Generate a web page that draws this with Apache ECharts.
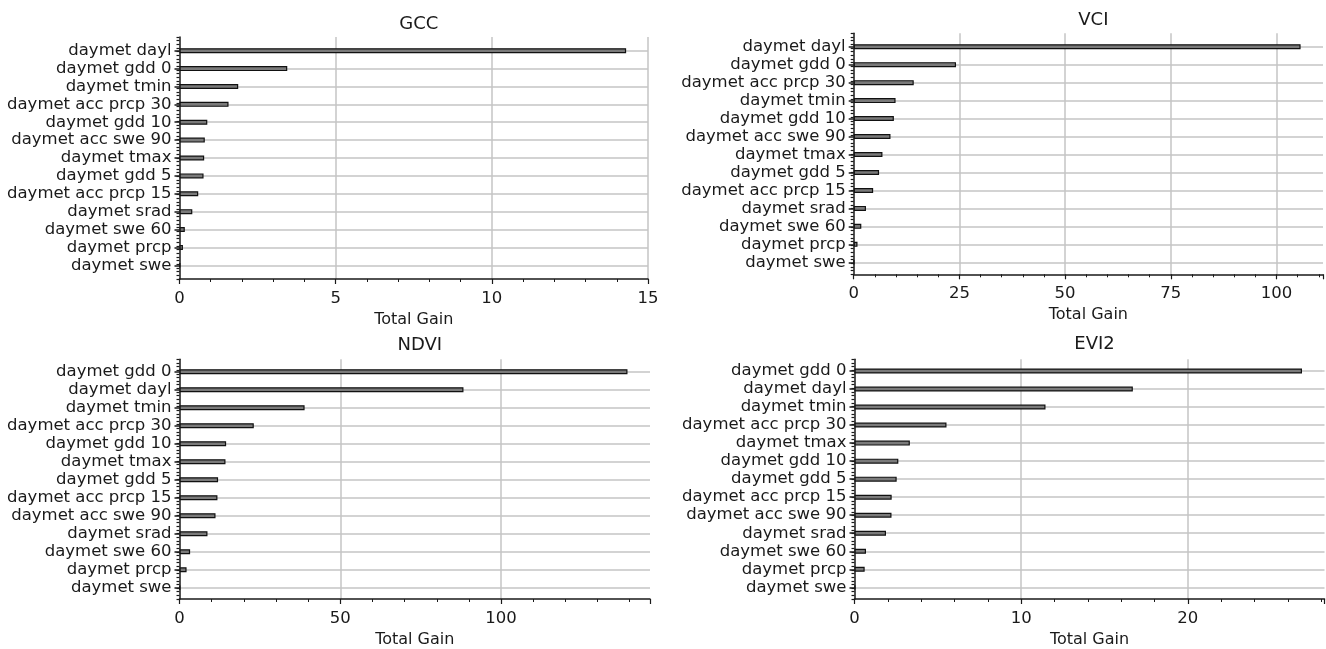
<!DOCTYPE html>
<html>
<head>
<meta charset="utf-8">
<script src="https://cdn.jsdelivr.net/npm/echarts@6/dist/echarts.min.js"></script>
<style>
  html, body { margin: 0; padding: 0; background: #fff; }
  #chart { width: 1326px; height: 649px; }
</style>
</head>
<body>
<div id="chart"></div>
<script>
// feature importance per index (Total Gain)
const gccLabels = ['daymet dayl', 'daymet gdd 0', 'daymet tmin', 'daymet acc prcp 30', 'daymet gdd 10', 'daymet acc swe 90', 'daymet tmax', 'daymet gdd 5', 'daymet acc prcp 15', 'daymet srad', 'daymet swe 60', 'daymet prcp', 'daymet swe'];
const gccGain = [14.3, 3.45, 1.88, 1.57, 0.89, 0.81, 0.79, 0.77, 0.6, 0.41, 0.17, 0.11, 0.02];

const vciLabels = ['daymet dayl', 'daymet gdd 0', 'daymet acc prcp 30', 'daymet tmin', 'daymet gdd 10', 'daymet acc swe 90', 'daymet tmax', 'daymet gdd 5', 'daymet acc prcp 15', 'daymet srad', 'daymet swe 60', 'daymet prcp', 'daymet swe'];
const vciGain = [105.7, 24.2, 14.2, 9.9, 9.5, 8.7, 6.8, 6.0, 4.6, 2.9, 1.8, 0.9, 0.1];

const ndviLabels = ['daymet gdd 0', 'daymet dayl', 'daymet tmin', 'daymet acc prcp 30', 'daymet gdd 10', 'daymet tmax', 'daymet gdd 5', 'daymet acc prcp 15', 'daymet acc swe 90', 'daymet srad', 'daymet swe 60', 'daymet prcp', 'daymet swe'];
const ndviGain = [139.3, 88.3, 38.9, 23.1, 14.5, 14.3, 12.0, 11.8, 11.2, 8.7, 3.3, 2.2, 0.2];

const evi2Labels = ['daymet gdd 0', 'daymet dayl', 'daymet tmin', 'daymet acc prcp 30', 'daymet tmax', 'daymet gdd 10', 'daymet gdd 5', 'daymet acc prcp 15', 'daymet acc swe 90', 'daymet srad', 'daymet swe 60', 'daymet prcp', 'daymet swe'];
const evi2Gain = [26.85, 16.7, 11.46, 5.52, 3.32, 2.63, 2.53, 2.23, 2.22, 1.89, 0.69, 0.61, 0.05];

const W = 1326;
const FONT = 'DejaVu Sans';
const INK = '#1a1a1a';
const GRID = '#c4c4c4';

// frame = axes box (x axis + dense y ticks), rows = band area for bars
const panels = [
  { title: 'GCC', labels: gccLabels, values: gccGain, max: 15, interval: 5, endLabel: true,
    left: 179.5, rightEdge: 648, frameTop: 37, frameBottom: 279, rowFirst: 50.7, rowLast: 265.3, titleTop: 10 },
  { title: 'VCI', labels: vciLabels, values: vciGain, max: 111, interval: 25, endLabel: false,
    left: 853.7, rightEdge: 1323, frameTop: 33.3, frameBottom: 274.3, rowFirst: 46.7, rowLast: 262.3, titleTop: 6.5 },
  { title: 'NDVI', labels: ndviLabels, values: ndviGain, max: 146.3, interval: 50, endLabel: false,
    left: 179.5, rightEdge: 650, frameTop: 359.3, frameBottom: 600.7, rowFirst: 371.7, rowLast: 587.7, titleTop: 331 },
  { title: 'EVI2', labels: evi2Labels, values: evi2Gain, max: 28.2, interval: 10, endLabel: false,
    left: 854.5, rightEdge: 1324.5, frameTop: 359.3, frameBottom: 599.3, rowFirst: 371, rowLast: 587.3, titleTop: 330.5 }
];

const grid = [], xAxis = [], yAxis = [], series = [], title = [];

panels.forEach((p, i) => {
  const n = p.labels.length;
  const band = (p.rowLast - p.rowFirst) / (n - 1);
  const right = W - p.rightEdge;

  // frame grid
  grid.push({ left: p.left, right: right, top: p.frameTop, height: p.frameBottom - p.frameTop });
  // bar grid
  grid.push({ left: p.left, right: right, top: p.rowFirst - band / 2, height: band * n });

  xAxis.push({
    type: 'value', gridIndex: 2 * i, min: 0, max: p.max, interval: p.interval,
    name: 'Total Gain', nameLocation: 'middle', nameGap: 33,
    nameTextStyle: { fontFamily: FONT, fontSize: 16, color: INK },
    axisLine: { show: true, onZero: false, lineStyle: { color: INK, width: 1.5 } },
    axisTick: { show: true, length: 5, lineStyle: { color: INK, width: 1.2 } },
    minorTick: { show: true, splitNumber: 5, length: 3, lineStyle: { color: INK, width: 1 } },
    axisLabel: { fontFamily: FONT, fontSize: 16.5, color: INK, margin: 11,
      showMinLabel: true, showMaxLabel: p.endLabel },
    splitLine: { show: true, showMinLine: false, showMaxLine: p.endLabel,
      lineStyle: { color: GRID, width: 1.5 } }
  });
  xAxis.push({ type: 'value', gridIndex: 2 * i + 1, min: 0, max: p.max, show: false });

  // dense tick marks along the left spine
  yAxis.push({
    type: 'value', gridIndex: 2 * i, min: 0, max: 66, interval: 6,
    axisLine: { show: true, lineStyle: { color: INK, width: 1.5 } },
    axisTick: { show: true, length: 3, lineStyle: { color: INK, width: 1.2 } },
    minorTick: { show: true, splitNumber: 6, length: 3, lineStyle: { color: INK, width: 1.2 } },
    axisLabel: { show: false },
    splitLine: { show: false }
  });
  yAxis.push({
    type: 'category', gridIndex: 2 * i + 1, inverse: true, data: p.labels,
    axisLine: { show: false },
    axisTick: { show: true, alignWithLabel: true, length: 5, lineStyle: { color: INK, width: 1.5 } },
    axisLabel: { fontFamily: FONT, fontSize: 16.5, color: INK, margin: 8, interval: 0 },
    splitLine: { show: true, alignWithLabel: true, interval: 0, lineStyle: { color: GRID, width: 1.5 } }
  });

  series.push({
    type: 'bar', xAxisIndex: 2 * i + 1, yAxisIndex: 2 * i + 1,
    data: p.values, barWidth: 5, silent: true,
    itemStyle: { color: '#7a7a7a', borderColor: '#111111', borderWidth: 1.2 }
  });

  title.push({
    text: p.title, left: p.left + (p.rightEdge - p.left) / 2, top: p.titleTop, textAlign: 'center',
    textStyle: { fontFamily: FONT, fontSize: 18, fontWeight: 'normal', color: INK }
  });
});

const chart = echarts.init(document.getElementById('chart'), null, { renderer: 'canvas' });
chart.setOption({
  backgroundColor: '#ffffff',
  animation: false,
  title, grid, xAxis, yAxis, series
});
</script>
</body>
</html>
